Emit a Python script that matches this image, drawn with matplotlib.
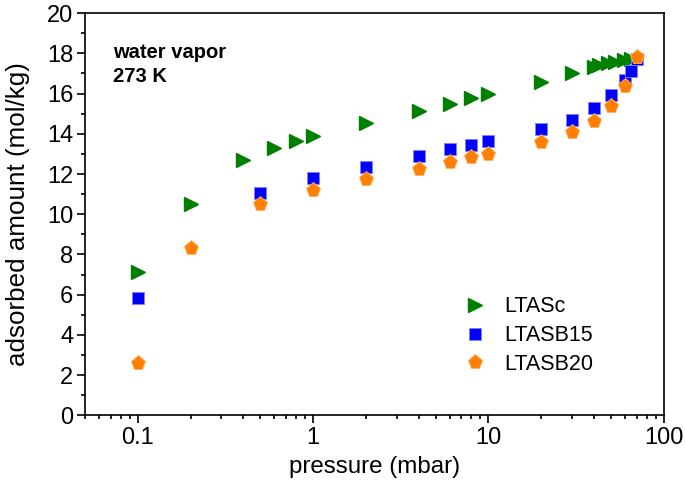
import matplotlib
matplotlib.use('Agg')
from matplotlib import pyplot as plt
from matplotlib.ticker import MultipleLocator, LogLocator, NullFormatter, FuncFormatter

plt.rcParams['font.family'] = ['Liberation Sans', 'DejaVu Sans']

# LTASc
p_c = [0.1, 0.2, 0.4, 0.6, 0.8, 1, 2, 4, 6, 8, 10, 20, 30, 40, 43, 48, 53, 59, 65]
q_c = [7.15, 10.5, 12.7, 13.3, 13.65, 13.9, 14.55, 15.15, 15.5, 15.8, 16.0, 16.6, 17.0,
       17.3, 17.4, 17.5, 17.55, 17.65, 17.7]
# LTASB15
p_b15 = [0.1, 0.5, 1, 2, 4, 6, 8, 10, 20, 30, 40, 50, 60, 65, 70]
q_b15 = [5.85, 11.05, 11.8, 12.35, 12.9, 13.25, 13.45, 13.65, 14.25, 14.7, 15.3, 15.95,
         16.7, 17.1, 17.7]
# LTASB20
p_b20 = [0.1, 0.2, 0.5, 1, 2, 4, 6, 8, 10, 20, 30, 40, 50, 60, 70]
q_b20 = [2.6, 8.3, 10.5, 11.2, 11.75, 12.27, 12.6, 12.85, 13.0, 13.6, 14.07, 14.62,
         15.4, 16.4, 17.8]

fig = plt.figure(figsize=(6.85, 4.88), dpi=100)
ax = fig.add_axes([0.124, 0.149, 0.845, 0.824])

ax.plot(p_c, q_c, ls='none', marker='>', ms=10, color='#008000', mec='#008000', label='LTASc')
ax.plot(p_b15, q_b15, ls='none', marker='s', ms=8, color='#0000ff', mec='#8080ff', mew=0.6, label='LTASB15')
ax.plot(p_b20, q_b20, ls='none', marker='p', ms=11, color='#ff8000', mec='#ffb060', mew=0.6, label='LTASB20')

ax.set_xscale('log')
ax.set_xlim(0.05, 100)
ax.set_ylim(0, 20)
ax.yaxis.set_major_locator(MultipleLocator(2))
ax.yaxis.set_minor_locator(MultipleLocator(1))
ax.xaxis.set_major_locator(LogLocator(base=10))
ax.xaxis.set_minor_locator(LogLocator(base=10, subs=range(2, 10)))
ax.xaxis.set_minor_formatter(NullFormatter())
ax.xaxis.set_major_formatter(FuncFormatter(lambda v, pos: '%g' % v))

ax.tick_params(which='both', direction='out', top=False, right=False, labelsize=17, width=1.2, pad=3)
ax.tick_params(which='major', length=5.5)
ax.tick_params(which='minor', length=3)
for s in ax.spines.values():
    s.set_linewidth(1.2)

ax.set_xlabel('pressure (mbar)', fontsize=17.4, labelpad=5)
ax.set_ylabel('adsorbed amount (mol/kg)', fontsize=18.7, labelpad=12)

ax.text(0.048, 0.872, 'water vapor\n273 K', transform=ax.transAxes, fontsize=14.5,
        fontweight='bold', linespacing=1.32, va='center')

ax.legend(loc='center left', bbox_to_anchor=(0.655, 0.198), frameon=False, fontsize=15.5,
          handlelength=1.0, handletextpad=0.85, labelspacing=0.36, borderpad=0, borderaxespad=0)

fig.savefig('out.png', dpi=100)
